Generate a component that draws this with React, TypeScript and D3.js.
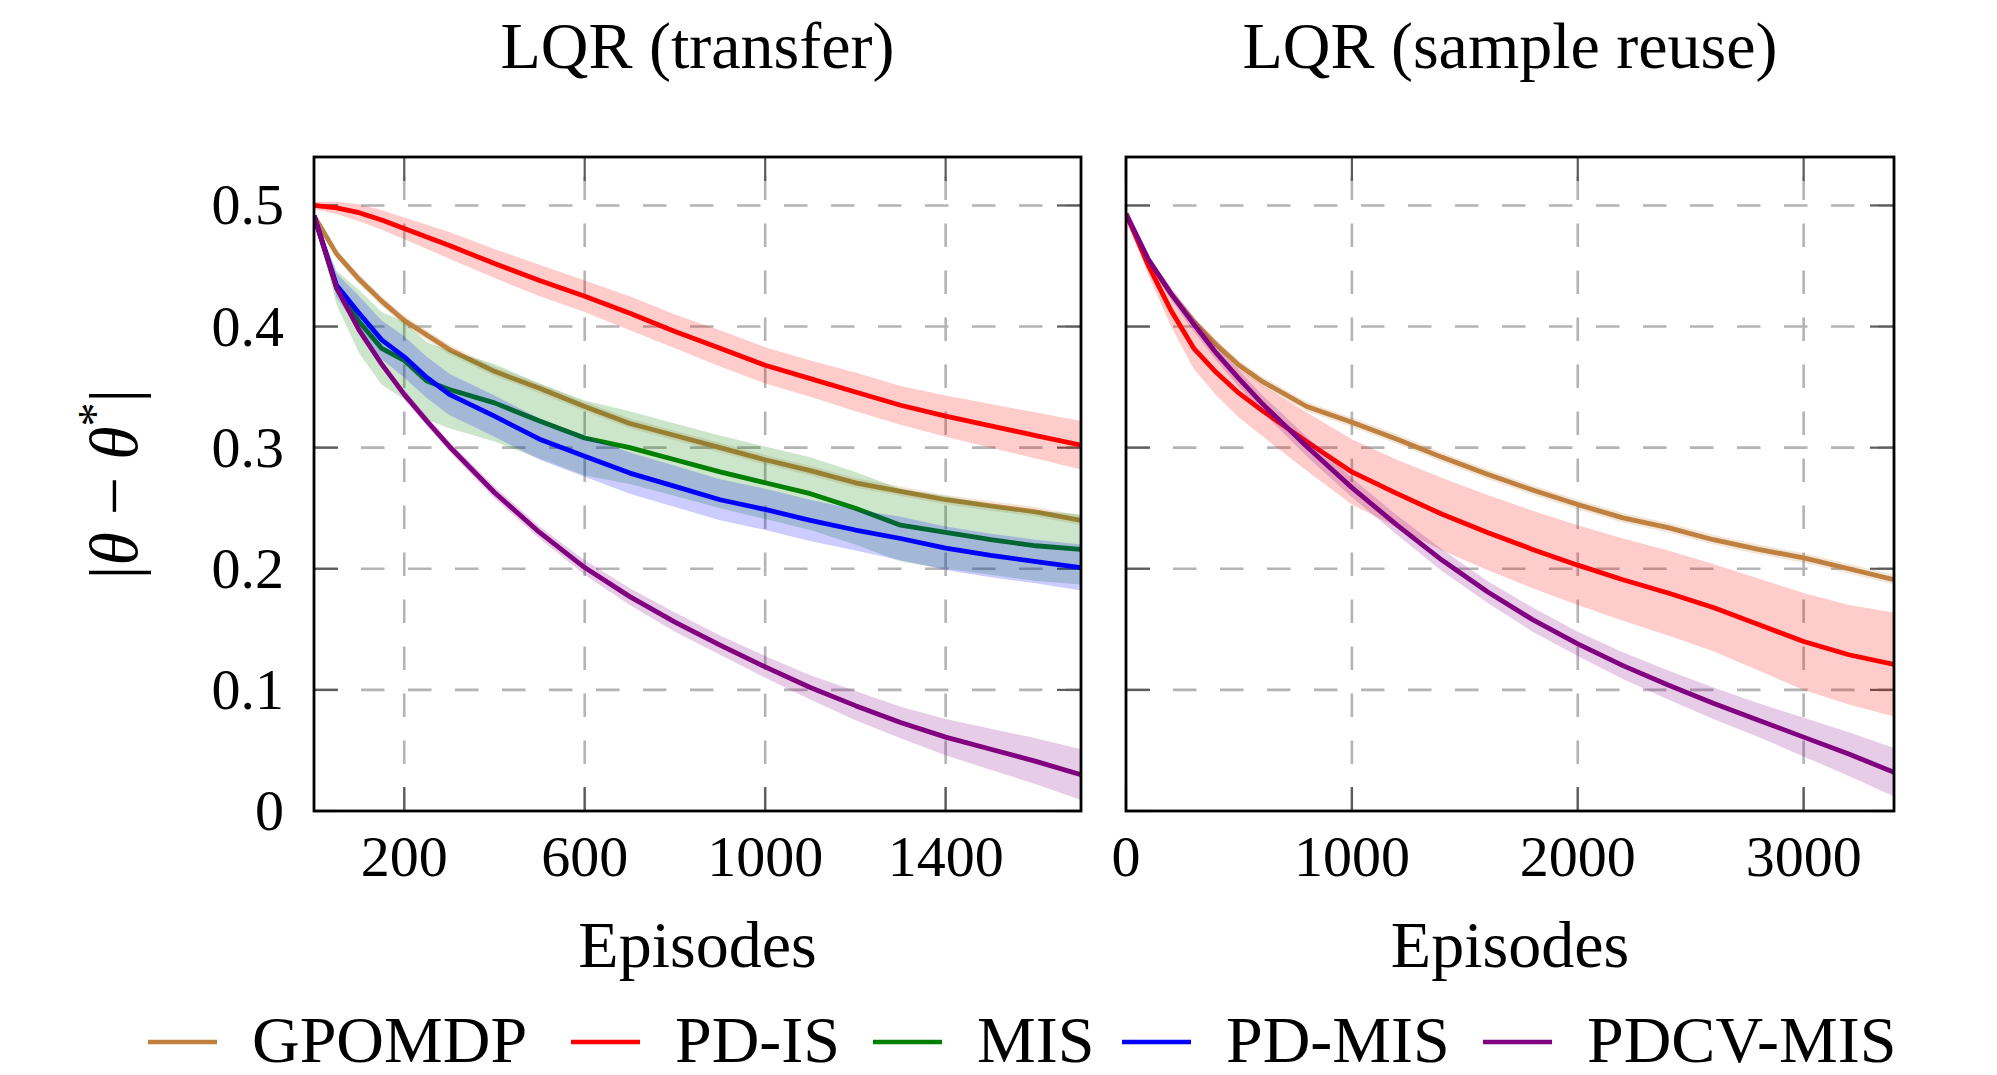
import React from 'react';
import * as d3 from 'd3';

const seriesNames = ['GPOMDP', 'PD-IS', 'MIS', 'PD-MIS', 'PDCV-MIS'];
const seriesColors = ['#bf8040', '#ff0000', '#008000', '#0000ff', '#800080'];

// LQR (transfer)
const transferEpisodes = [0, 50, 100, 150, 200, 250, 300, 400, 500, 600, 700, 800, 900, 1000, 1100, 1200, 1300, 1400, 1500, 1600, 1700];
const transferGpomdp = [0.4915, 0.460, 0.439, 0.421, 0.405, 0.393, 0.381, 0.363, 0.349, 0.334, 0.320, 0.310, 0.300, 0.290, 0.281, 0.271, 0.264, 0.257, 0.252, 0.247, 0.240];
const transferGpomdpStd = [0.002, 0.003, 0.004, 0.004, 0.004, 0.004, 0.004, 0.004, 0.004, 0.004, 0.004, 0.004, 0.004, 0.004, 0.004, 0.004, 0.004, 0.004, 0.004, 0.004, 0.004];
const transferPdis = [0.500, 0.498, 0.494, 0.488, 0.481, 0.474, 0.467, 0.452, 0.438, 0.425, 0.411, 0.396, 0.382, 0.368, 0.357, 0.346, 0.335, 0.326, 0.318, 0.310, 0.302];
const transferPdisStd = [0.003, 0.005, 0.007, 0.008, 0.009, 0.010, 0.011, 0.012, 0.013, 0.013, 0.014, 0.014, 0.015, 0.015, 0.015, 0.016, 0.016, 0.017, 0.018, 0.019, 0.020];
const transferMis = [0.4915, 0.432, 0.404, 0.382, 0.372, 0.355, 0.348, 0.337, 0.322, 0.308, 0.300, 0.290, 0.280, 0.271, 0.262, 0.250, 0.236, 0.230, 0.224, 0.219, 0.216];
const transferMisStd = [0.0, 0.014, 0.026, 0.030, 0.032, 0.032, 0.032, 0.032, 0.031, 0.031, 0.030, 0.030, 0.030, 0.030, 0.030, 0.030, 0.030, 0.030, 0.029, 0.029, 0.029];
const transferPdmis = [0.4915, 0.434, 0.411, 0.389, 0.375, 0.358, 0.344, 0.326, 0.307, 0.293, 0.279, 0.268, 0.257, 0.249, 0.240, 0.232, 0.225, 0.217, 0.211, 0.206, 0.201];
const transferPdmisStd = [0.0, 0.010, 0.014, 0.016, 0.017, 0.017, 0.017, 0.017, 0.017, 0.017, 0.017, 0.017, 0.017, 0.017, 0.017, 0.017, 0.018, 0.018, 0.018, 0.018, 0.019];
const transferPdcvmis = [0.4915, 0.432, 0.397, 0.369, 0.344, 0.322, 0.301, 0.263, 0.230, 0.201, 0.177, 0.156, 0.137, 0.119, 0.102, 0.087, 0.073, 0.061, 0.051, 0.041, 0.030];
const transferPdcvmisStd = [0.0, 0.002, 0.003, 0.003, 0.004, 0.004, 0.004, 0.005, 0.005, 0.006, 0.007, 0.008, 0.008, 0.009, 0.010, 0.012, 0.013, 0.015, 0.017, 0.019, 0.021];

// LQR (sample reuse)
const reuseEpisodes = [0, 100, 200, 300, 400, 500, 600, 800, 1000, 1200, 1400, 1600, 1800, 2000, 2200, 2400, 2600, 2800, 3000, 3200, 3400];
const reuseGpomdp = [0.493, 0.455, 0.427, 0.404, 0.385, 0.368, 0.355, 0.334, 0.321, 0.307, 0.292, 0.278, 0.265, 0.253, 0.242, 0.234, 0.224, 0.216, 0.209, 0.200, 0.191];
const reuseGpomdpStd = [0.002, 0.003, 0.004, 0.004, 0.004, 0.004, 0.004, 0.004, 0.004, 0.004, 0.004, 0.004, 0.004, 0.004, 0.004, 0.004, 0.004, 0.004, 0.004, 0.004, 0.004];
const reusePdis = [0.493, 0.450, 0.413, 0.382, 0.362, 0.345, 0.331, 0.305, 0.280, 0.262, 0.245, 0.230, 0.216, 0.203, 0.191, 0.180, 0.168, 0.154, 0.140, 0.129, 0.121];
const reusePdisStd = [0.002, 0.008, 0.013, 0.017, 0.019, 0.020, 0.021, 0.024, 0.027, 0.028, 0.030, 0.031, 0.032, 0.033, 0.034, 0.035, 0.036, 0.038, 0.040, 0.041, 0.043];
const reusePdcvmis = [0.493, 0.455, 0.427, 0.402, 0.378, 0.357, 0.337, 0.301, 0.267, 0.236, 0.207, 0.181, 0.158, 0.138, 0.120, 0.104, 0.089, 0.075, 0.061, 0.047, 0.032];
const reusePdcvmisStd = [0.0, 0.003, 0.005, 0.006, 0.006, 0.007, 0.007, 0.008, 0.008, 0.008, 0.009, 0.009, 0.010, 0.010, 0.011, 0.012, 0.013, 0.014, 0.016, 0.018, 0.020];

const yTicks = [0, 0.1, 0.2, 0.3, 0.4, 0.5];
const transferXTicks = [200, 600, 1000, 1400];
const reuseXTicks = [0, 1000, 2000, 3000];

const FONT = '"Liberation Serif", "Times New Roman", serif';
const TOP = 157;
const BOTTOM = 811;
const TICK = 24;

function Panel({ id, left, right, domain, episodes, series, xTicks, title, yLabels }) {
  const x = d3.scaleLinear().domain(domain).range([left, right]);
  const y = d3.scaleLinear().domain([0, 0.54]).range([BOTTOM, TOP]);

  const line = d3.line().x((d, i) => x(episodes[i])).y(d => y(d));
  const band = (mean, std) =>
    d3.area()
      .x((d, i) => x(episodes[i]))
      .y0((d, i) => y(mean[i] - std[i]))
      .y1((d, i) => y(mean[i] + std[i]))(mean);

  const cx = (left + right) / 2;

  return (
    <g>
      <defs>
        <clipPath id={id}>
          <rect x={left} y={TOP} width={right - left} height={BOTTOM - TOP} />
        </clipPath>
      </defs>

      {/* grid */}
      {yTicks.filter(t => t > 0).map(t => (
        <line key={'gy' + t} x1={left} x2={right} y1={y(t)} y2={y(t)}
          stroke="#b4b4b4" strokeWidth={2.6} strokeDasharray="23.5 23.5" />
      ))}
      {xTicks.filter(t => x(t) > left + 1).map(t => (
        <line key={'gx' + t} x1={x(t)} x2={x(t)} y1={BOTTOM} y2={TOP}
          stroke="#b4b4b4" strokeWidth={2.6} strokeDasharray="23.5 23.5" />
      ))}

      {/* ticks, pointing inward on all four sides */}
      {yTicks.map(t => (
        <g key={'ty' + t} stroke="#5c5c5c" strokeWidth={2.2}>
          <line x1={left} x2={left + TICK} y1={y(t)} y2={y(t)} />
          <line x1={right - TICK} x2={right} y1={y(t)} y2={y(t)} />
        </g>
      ))}
      {xTicks.map(t => (
        <g key={'tx' + t} stroke="#5c5c5c" strokeWidth={2.2}>
          <line x1={x(t)} x2={x(t)} y1={BOTTOM} y2={BOTTOM - TICK} />
          <line x1={x(t)} x2={x(t)} y1={TOP} y2={TOP + TICK} />
        </g>
      ))}

      <g clipPath={`url(#${id})`}>
        {series.map(s => (
          <g key={s.name}>
            <path d={band(s.mean, s.std)} fill={s.color} fillOpacity={0.2} stroke="none" />
            <path d={line(s.mean)} fill="none" stroke={s.color} strokeWidth={4.8} strokeLinejoin="round" />
          </g>
        ))}
      </g>

      <rect x={left} y={TOP} width={right - left} height={BOTTOM - TOP}
        fill="none" stroke="#000" strokeWidth={2.8} />

      {xTicks.map(t => (
        <text key={'lx' + t} x={x(t)} y={876} textAnchor="middle"
          fontFamily={FONT} fontSize={58}>{t}</text>
      ))}
      {yLabels && yTicks.map(t => (
        <text key={'ly' + t} x={left - 30} y={y(t) + 19} textAnchor="end"
          fontFamily={FONT} fontSize={58}>{t === 0 ? '0' : d3.format('.1f')(t)}</text>
      ))}

      <text x={cx} y={68} textAnchor="middle" fontFamily={FONT} fontSize={66}>{title}</text>
      <text x={cx} y={967} textAnchor="middle" fontFamily={FONT} fontSize={66}>Episodes</text>
    </g>
  );
}

export default function App() {
  const transferSeries = [
    { name: seriesNames[0], color: seriesColors[0], mean: transferGpomdp, std: transferGpomdpStd },
    { name: seriesNames[1], color: seriesColors[1], mean: transferPdis, std: transferPdisStd },
    { name: seriesNames[2], color: seriesColors[2], mean: transferMis, std: transferMisStd },
    { name: seriesNames[3], color: seriesColors[3], mean: transferPdmis, std: transferPdmisStd },
    { name: seriesNames[4], color: seriesColors[4], mean: transferPdcvmis, std: transferPdcvmisStd },
  ];
  const reuseSeries = [
    { name: seriesNames[0], color: seriesColors[0], mean: reuseGpomdp, std: reuseGpomdpStd },
    { name: seriesNames[1], color: seriesColors[1], mean: reusePdis, std: reusePdisStd },
    { name: seriesNames[4], color: seriesColors[4], mean: reusePdcvmis, std: reusePdcvmisStd },
  ];

  const legendX = [148, 571, 873, 1122, 1483];

  return (
    <svg width={1997} height={1075} style={{ position: 'absolute', left: 0, top: 0, background: '#fff' }}>
      <Panel id="clip-transfer" left={314} right={1081} domain={[0, 1700]}
        episodes={transferEpisodes} series={transferSeries} xTicks={transferXTicks}
        title="LQR (transfer)" yLabels={true} />
      <Panel id="clip-reuse" left={1126} right={1894} domain={[0, 3400]}
        episodes={reuseEpisodes} series={reuseSeries} xTicks={reuseXTicks}
        title="LQR (sample reuse)" yLabels={false} />

      <text transform="translate(137,484) rotate(-90)" textAnchor="middle"
        fontFamily={FONT} fontSize={68}>
        |<tspan fontStyle="italic">θ</tspan> − <tspan fontStyle="italic">θ</tspan>
        <tspan fontSize={48} dy={-26}>*</tspan><tspan dy={26}>|</tspan>
      </text>

      {seriesNames.map((name, i) => (
        <g key={name}>
          <line x1={legendX[i]} x2={legendX[i] + 69} y1={1042} y2={1042}
            stroke={seriesColors[i]} strokeWidth={4.5} />
          <text x={legendX[i] + 104} y={1062} fontFamily={FONT} fontSize={66}>{name}</text>
        </g>
      ))}
    </svg>
  );
}
